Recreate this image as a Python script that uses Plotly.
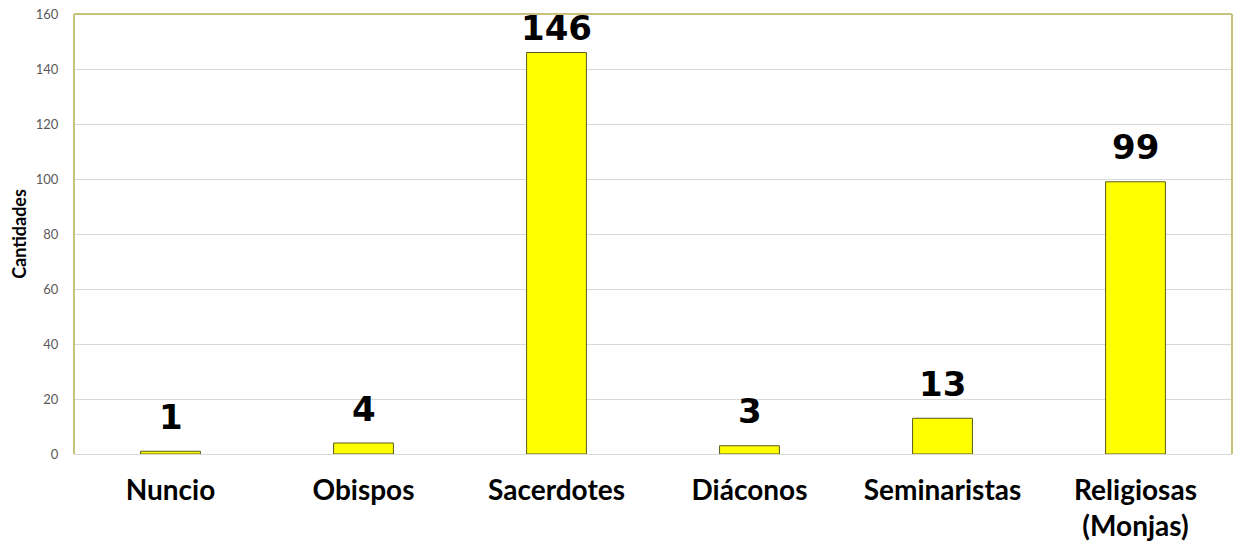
import plotly.graph_objects as go

categories = ["Nuncio", "Obispos", "Sacerdotes", "Diáconos", "Seminaristas", "Religiosas<br>(Monjas)"]
values = [1, 4, 146, 3, 13, 99]
y_ticks = [0, 20, 40, 60, 80, 100, 120, 140, 160]

fig = go.Figure()
fig.add_trace(go.Bar(
    x=categories, y=values,
    marker=dict(color="#FFFF00", line=dict(color="#5a5a20", width=1)),
    hoverinfo="skip",
))

for c, v in zip(categories, values):
    fig.add_annotation(
        x=c, y=min(v + 4.5, 146.8), text=str(v), showarrow=False,
        yanchor="bottom", xanchor="center",
        font=dict(family="DejaVu Sans", size=34, color="black", weight="bold"),
    )

border = "#c9c27c"
for x0, y0, x1, y1 in [(0, 0, 0, 1), (0, 1, 1, 1), (1, 0, 1, 1)]:
    fig.add_shape(type="line", xref="paper", yref="paper", x0=x0, y0=y0, x1=x1, y1=y1,
                  line=dict(color=border, width=2), layer="above")

fig.update_layout(
    width=1233, height=548, autosize=False,
    margin=dict(l=74, r=1, t=14, b=94),
    paper_bgcolor="white", plot_bgcolor="white",
    bargap=0.69,
    showlegend=False,
    xaxis=dict(
        tickfont=dict(family="Lato", size=28, color="black", weight="bold"),
        ticks="outside", ticklen=11, tickcolor="rgba(0,0,0,0)",
        showline=True, linecolor="#d9d9d9", linewidth=1,
        showgrid=False,
    ),
    yaxis=dict(
        range=[0, 160], tickvals=y_ticks,
        tickfont=dict(family="Lato", size=13, color="#595959"),
        gridcolor="#d9d9d9", gridwidth=1,
        zeroline=False,
        ticks="outside", ticklen=12, tickcolor="rgba(0,0,0,0)",
        title=dict(text="Cantidades", font=dict(family="Lato", size=18, color="black", weight="bold"), standoff=4),
    ),
)

fig.write_html(
    "out.html",
    config={"responsive": False, "displayModeBar": False},
    post_script="document.body.style.margin='0';document.body.style.padding='0';document.body.style.overflow='hidden';",
)
